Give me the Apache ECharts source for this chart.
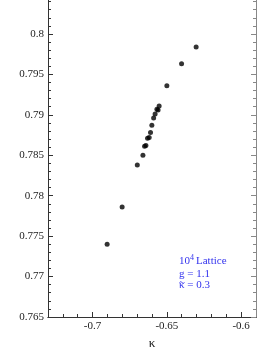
<!DOCTYPE html>
<html>
<head>
<meta charset="utf-8">
<script src="https://cdn.jsdelivr.net/npm/echarts@6/dist/echarts.min.js"></script>
<style>html,body{margin:0;padding:0;background:#fff;}#c{width:277px;height:358px;}</style>
</head>
<body>
<div id="c"></div>
<script>
const kappa = [-0.6902,-0.6801,-0.6699,-0.6661,-0.6650,-0.6641,-0.6630,-0.6619,-0.6610,-0.6601,-0.6589,-0.6579,-0.6567,-0.6559,-0.6552,-0.6500,-0.6401,-0.6303];
const yValues = [0.7740,0.7786,0.7838,0.7850,0.7861,0.7862,0.7871,0.7872,0.7878,0.7887,0.7896,0.7901,0.7907,0.7906,0.7911,0.7936,0.7963,0.7984];
const xMajor = [-0.7,-0.65,-0.6];
const xMinor = [-0.72,-0.71,-0.69,-0.68,-0.67,-0.66,-0.64,-0.63,-0.62,-0.61];
const yMajor = [0.765,0.77,0.775,0.78,0.785,0.79,0.795,0.8,0.805];
const yMinor = [0.766,0.767,0.768,0.769,0.771,0.772,0.773,0.774,0.776,0.777,0.778,0.779,0.781,0.782,0.783,0.784,0.786,0.787,0.788,0.789,0.791,0.792,0.793,0.794,0.796,0.797,0.798,0.799,0.801,0.802,0.803,0.804];
const xMin = -0.73, xMax = -0.59, yMin = 0.765, yMax = 0.805;

const font = 'Liberation Serif';
const axisCol = '#333';
const sideCol = '#888';
const blue = '#3333ee';

function xAx(pos, ticks, len, label, col) {
  return {
    type: 'value', position: pos, min: xMin, max: xMax,
    axisLine: {show: true, onZero: false, lineStyle: {color: col, width: 1}},
    axisTick: {show: true, inside: true, length: len, customValues: ticks, lineStyle: {color: col}},
    axisLabel: label ? {show: true, customValues: ticks, color: '#222', fontFamily: font, fontSize: 11, margin: 4,
      formatter: v => String(+v.toFixed(2))} : {show: false},
    splitLine: {show: false}
  };
}
function yAx(pos, ticks, len, label, col) {
  return {
    type: 'value', position: pos, min: yMin, max: yMax,
    axisLine: {show: true, onZero: false, lineStyle: {color: col, width: 1}},
    axisTick: {show: true, inside: true, length: len, customValues: ticks, lineStyle: {color: col}},
    axisLabel: label ? {show: true, customValues: ticks, color: '#222', fontFamily: font, fontSize: 11, margin: 4,
      formatter: v => String(+v.toFixed(3))} : {show: false},
    splitLine: {show: false}
  };
}

const xa0 = xAx('bottom', xMajor, 5, true, axisCol);
xa0.name = 'κ';
xa0.nameLocation = 'middle';
xa0.nameGap = 18;
xa0.nameTextStyle = {fontFamily: font, fontSize: 13, color: '#222'};

const chart = echarts.init(document.getElementById('c'), null, {renderer: 'canvas'});
chart.setOption({
  animation: false,
  backgroundColor: '#fff',
  grid: {left: 48, right: 21, top: -6.5, bottom: 41, containLabel: false, outerBoundsMode: 'none'},
  xAxis: [
    xa0,
    xAx('bottom', xMinor, 3, false, axisCol),
    xAx('top', xMajor, 5, false, sideCol),
    xAx('top', xMinor, 3, false, sideCol)
  ],
  yAxis: [
    yAx('left', yMajor, 5, true, axisCol),
    yAx('left', yMinor, 3, false, axisCol),
    yAx('right', yMajor, 5, false, sideCol),
    yAx('right', yMinor, 3, false, sideCol)
  ],
  series: [{
    type: 'scatter', xAxisIndex: 0, yAxisIndex: 0,
    symbol: 'circle', symbolSize: 5,
    itemStyle: {color: '#000'},
    data: kappa.map((k, i) => [k, yValues[i]])
  }],
  graphic: [
    {type: 'text', left: 179, top: 256, style: {text: '10', fill: blue, font: '11px "Liberation Serif"'}},
    {type: 'text', left: 190, top: 253.5, style: {text: '4', fill: blue, font: '8px "Liberation Serif"'}},
    {type: 'text', left: 196, top: 256, style: {text: 'Lattice', fill: blue, font: '11px "Liberation Serif"'}},
    {type: 'text', left: 179, top: 268.5, style: {text: 'g = 1.1', fill: blue, font: '11px "Liberation Serif"'}},
    {type: 'text', left: 179, top: 280, style: {text: 'κ = 0.3', fill: blue, font: '11px "Liberation Serif"'}},
    {type: 'bezierCurve', z: 10,
      shape: {x1: 179.5, y1: 282.5, x2: 184.5, y2: 282.5, cpx1: 181, cpy1: 280, cpx2: 183, cpy2: 285},
      style: {stroke: blue, lineWidth: 0.9, fill: null}}
  ]
});
</script>
</body>
</html>
